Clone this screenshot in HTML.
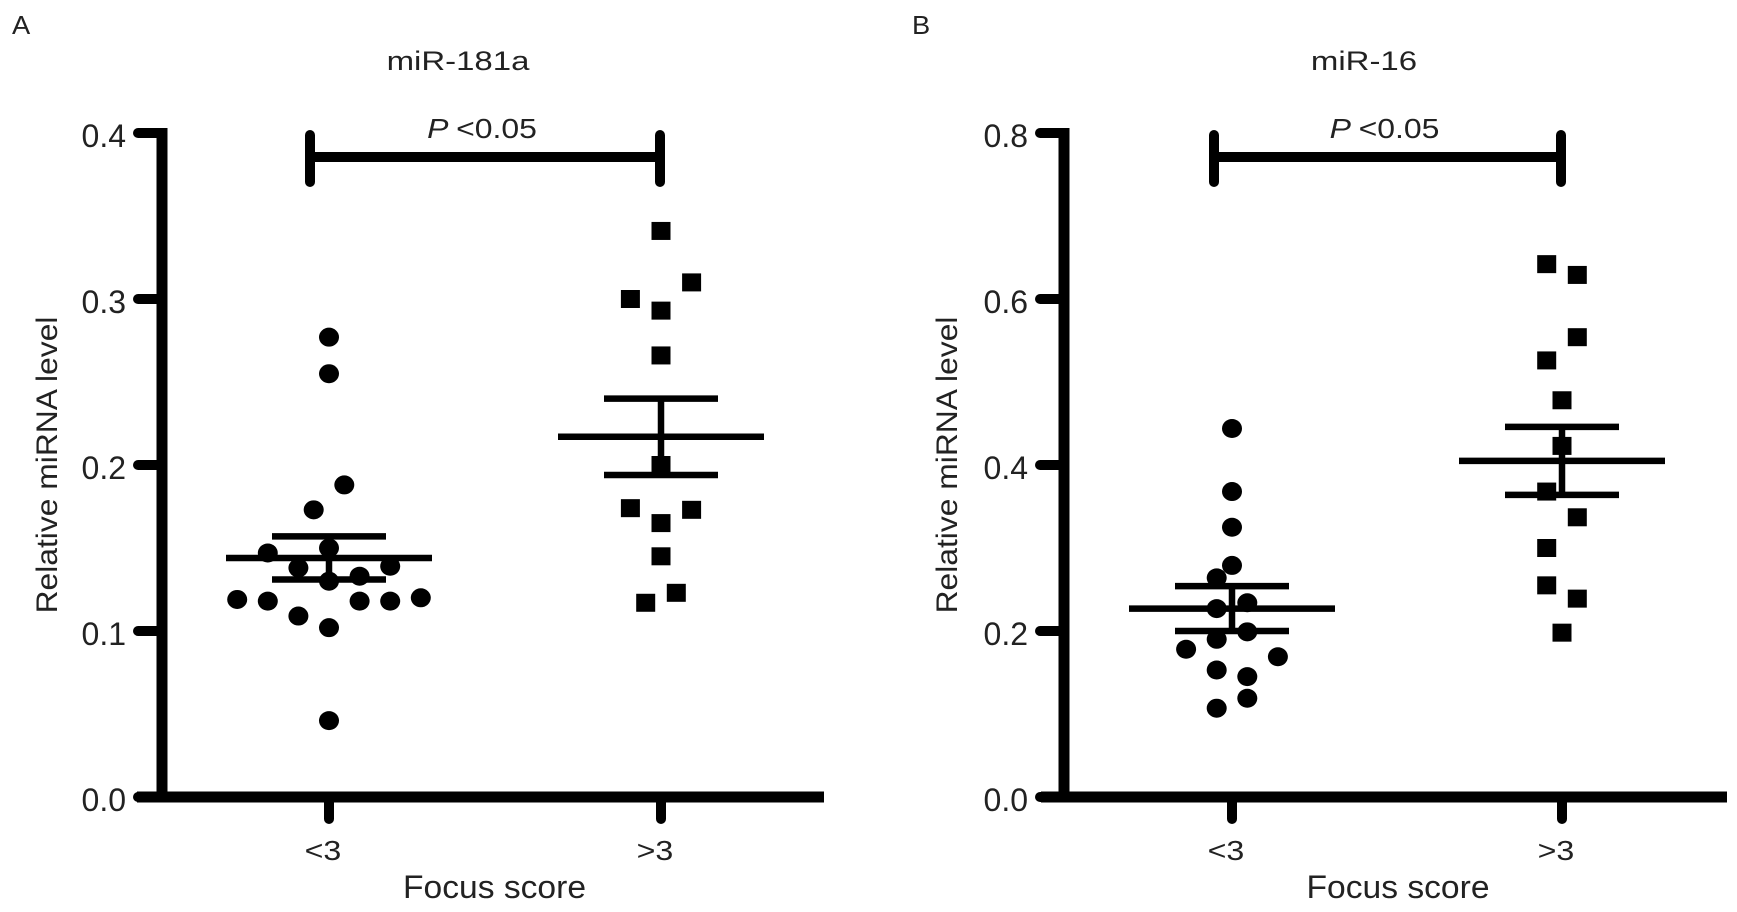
<!DOCTYPE html>
<html><head><meta charset="utf-8"><style>
html,body{margin:0;padding:0;background:#fff;overflow:hidden;}
svg{display:block;font-family:"Liberation Sans",sans-serif;}
</style></head><body>
<svg id="chart" width="1737" height="912" viewBox="0 0 1737 912" xmlns="http://www.w3.org/2000/svg"></svg>
<script>
// Panel A data (miR-181a)
const catsA = ["<3", ">3"];
const ticksA = [0.0, 0.1, 0.2, 0.3, 0.4];
const lowValsA = [0.277,0.255,0.188,0.173,0.147,0.150,0.138,0.139,0.133,0.130,0.119,0.118,0.118,0.118,0.120,0.109,0.102,0.046];
const lowJitA  = [0,0,1,-1,-4,0,-2,4,2,0,-6,-4,2,4,6,-2,0,0];
const highValsA = [0.341,0.310,0.300,0.293,0.266,0.200,0.174,0.173,0.165,0.145,0.123,0.117];
const highJitA  = [0,2,-2,0,0,0,-2,2,0,0,1,-1];
const meanA = [0.144, 0.217];
const semA = [0.013, 0.023];
// Panel B data (miR-16)
const catsB = ["<3", ">3"];
const ticksB = [0.0, 0.2, 0.4, 0.6, 0.8];
const lowValsB = [0.444,0.368,0.325,0.279,0.264,0.234,0.227,0.199,0.190,0.178,0.169,0.153,0.145,0.119,0.107];
const lowJitB  = [0,0,0,0,-1,1,-1,1,-1,-3,3,-1,1,1,-1];
const highValsB = [0.642,0.629,0.554,0.526,0.478,0.423,0.368,0.337,0.300,0.255,0.239,0.198];
const highJitB  = [-1,1,1,-1,0,0,-1,1,-1,-1,1,0];
const meanB = [0.227, 0.405];
const semB = [0.027, 0.041];

const NS = "http://www.w3.org/2000/svg";
const svg = document.getElementById("chart");
function mk(tag, attrs, parent, name) {
  const e = document.createElementNS(NS, tag);
  for (const k in attrs) e.setAttribute(k, attrs[k]);
  
  
  (parent || svg).appendChild(e);
  return e;
}
function stretch(t, sx) {
  if (!sx || sx === 1) return;
  try {
    const w = t.getComputedTextLength();
    if (w > 0) {
      t.setAttribute("textLength", (w * sx).toFixed(1));
      t.setAttribute("lengthAdjust", "spacingAndGlyphs");
    }
  } catch (e) {}
}
function txt(x, y, s, size, anchor, parent, name, sx) {
  const t = mk("text", {x: x, y: y, "font-size": size, "text-anchor": anchor, fill: "#222"}, parent, name);
  t.textContent = s;
  stretch(t, sx);
  return t;
}

function panel(cfg) {
  const g = mk("g", {}, svg, cfg.id);
  const yS = v => cfg.y0 + (cfg.yTop - cfg.y0) * v / cfg.max;
  const xS = i => cfg.cx[i];
  txt(cfg.letterX, 34, cfg.letter, 26, "start", g, "panel-label", 1.05);
  txt(cfg.titleX, 70, cfg.title, 27, "middle", g, "chart-title", 1.22);
  // axes
  mk("line", {x1: cfg.ax, y1: cfg.yTop - 5, x2: cfg.ax, y2: cfg.y0 + 5, stroke: "#000", "stroke-width": 11}, g, "y-axis");
  mk("line", {x1: cfg.xStart, y1: cfg.y0, x2: cfg.xEnd, y2: cfg.y0, stroke: "#000", "stroke-width": 11}, g, "x-axis");
  cfg.ticks.forEach(v => {
    mk("line", {x1: cfg.ax - 24, y1: yS(v), x2: cfg.ax, y2: yS(v), stroke: "#000", "stroke-width": 10, "stroke-linecap": "round"}, g, "y-tick");
    txt(cfg.ax - 36, yS(v) + 14, v.toFixed(1), 32, "end", g, "y-tick-label", 1);
  });
  cfg.cats.forEach((c, i) => {
    mk("line", {x1: xS(i), y1: cfg.y0, x2: xS(i), y2: cfg.y0 + 22, stroke: "#000", "stroke-width": 10, "stroke-linecap": "round"}, g, "x-tick");
    txt(xS(i) - 6, 860, c, 28, "middle", g, "x-tick-label", 1.15);
  });
  txt((cfg.xStart + cfg.xEnd) / 2 + 14, 898, "Focus score", 32, "middle", g, "x-axis-title", 1.05);
  const yt = mk("text", {x: 0, y: 0, "font-size": 30, "text-anchor": "middle", fill: "#222",
    transform: "translate(" + cfg.ytX + "," + (cfg.y0 + cfg.yTop) / 2 + ") rotate(-90)"}, g, "y-axis-title");
  yt.textContent = "Relative miRNA level";
  stretch(yt, 1.06);
  // bracket
  const bg = mk("g", {}, g, "significance-bracket");
  mk("line", {x1: cfg.bx[0], y1: cfg.by, x2: cfg.bx[1], y2: cfg.by, stroke: "#000", "stroke-width": 10}, bg, "bracket-bar");
  cfg.bx.forEach(x => mk("line", {x1: x, y1: cfg.by - 22, x2: x, y2: cfg.by + 25, stroke: "#000", "stroke-width": 10, "stroke-linecap": "round"}, bg, "bracket-end"));
  const pt = mk("text", {x: (cfg.bx[0] + cfg.bx[1]) / 2 - 3, y: 138, "font-size": 28, "text-anchor": "middle", fill: "#222"}, bg, "p-value-label");
  const ts1 = document.createElementNS(NS, "tspan"); ts1.setAttribute("font-style", "italic"); ts1.textContent = "P ";
  
  
  const ts2 = document.createElementNS(NS, "tspan"); ts2.textContent = "<0.05";
  
  
  pt.appendChild(ts1); pt.appendChild(ts2);
  stretch(pt, 1.14);
  // points
  const J = cfg.jit;
  cfg.lowVals.forEach((v, k) => mk("ellipse", {cx: xS(0) + cfg.lowJit[k] * J, cy: yS(v), rx: 10, ry: 9.5, fill: "#000"}, g, "point-low"));
  cfg.highVals.forEach((v, k) => mk("rect", {x: xS(1) + cfg.highJit[k] * cfg.jitH - 9.5, y: yS(v) - 9, width: 19, height: 18, fill: "#000"}, g, "point-high"));
  // mean & sem
  [0, 1].forEach(i => {
    const m = cfg.mean[i], s = cfg.sem[i], x = xS(i);
    mk("line", {x1: x - cfg.mw, y1: yS(m), x2: x + cfg.mw, y2: yS(m), stroke: "#000", "stroke-width": 6.5}, g, "mean-line");
    mk("line", {x1: x - cfg.sw, y1: yS(m + s), x2: x + cfg.sw, y2: yS(m + s), stroke: "#000", "stroke-width": 6.5}, g, "sem-upper");
    mk("line", {x1: x - cfg.sw, y1: yS(m - s), x2: x + cfg.sw, y2: yS(m - s), stroke: "#000", "stroke-width": 6.5}, g, "sem-lower");
    mk("line", {x1: x, y1: yS(m + s), x2: x, y2: yS(m - s), stroke: "#000", "stroke-width": 6.5}, g, "sem-bar");
  });
}

panel({id: "panel-a", letter: "A", letterX: 12, title: "miR-181a", titleX: 458,
  ax: 162, yTop: 133, y0: 797, max: 0.4, xStart: 137, xEnd: 824, cx: [329, 661],
  ticks: ticksA, cats: catsA, ytX: 57, bx: [310, 660], by: 157,
  lowVals: lowValsA, lowJit: lowJitA, highVals: highValsA, highJit: highJitA, jit: 15.3, jitH: 15.3,
  mean: meanA, sem: semA, mw: 103, sw: 57});
panel({id: "panel-b", letter: "B", letterX: 912, title: "miR-16", titleX: 1364,
  ax: 1064, yTop: 133, y0: 797, max: 0.8, xStart: 1041, xEnd: 1727, cx: [1232, 1562],
  ticks: ticksB, cats: catsB, ytX: 957, bx: [1214, 1561], by: 157,
  lowVals: lowValsB, lowJit: lowJitB, highVals: highValsB, highJit: highJitB, jit: 15.3, jitH: 15.3,
  mean: meanB, sem: semB, mw: 103, sw: 57});
</script>
</body></html>
